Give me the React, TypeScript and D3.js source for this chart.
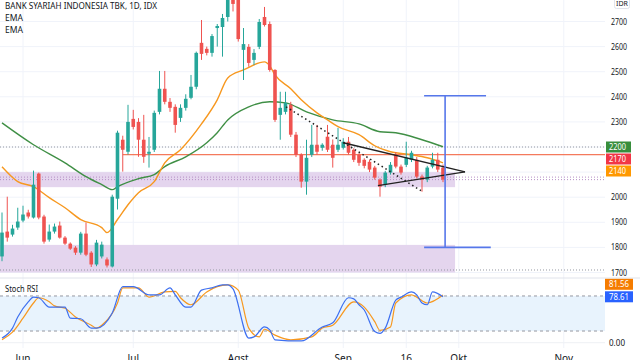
import React from 'react'
import * as d3 from 'd3'

// daily candles, open / high / low / close (IDR)
const ohlc: [number, number, number, number][] = [
  [1764, 1939, 1745, 1859], [1863, 2002, 1823, 1839], [1851, 1890, 1843, 1875], [1879, 1958, 1870, 1903],
  [1907, 1966, 1900, 1931], [1939, 1950, 1915, 1923], [1919, 2106, 1915, 2050], [2094, 2098, 1912, 1919],
  [1923, 1930, 1815, 1823], [1831, 1891, 1823, 1863], [1863, 1895, 1855, 1883], [1887, 1903, 1835, 1839],
  [1839, 1845, 1810, 1815], [1815, 1820, 1790, 1795], [1799, 1805, 1770, 1779], [1779, 1862, 1771, 1855],
  [1855, 1899, 1765, 1771], [1779, 1785, 1722, 1732], [1732, 1830, 1725, 1819], [1764, 1823, 1756, 1811],
  [1752, 1760, 1720, 1728], [1724, 2010, 1720, 2002], [1994, 2265, 1951, 2257], [2229, 2245, 2102, 2189],
  [2181, 2368, 2170, 2300], [2312, 2348, 2270, 2280], [2300, 2315, 2161, 2229], [2229, 2328, 2137, 2161],
  [2173, 2240, 2118, 2181], [2189, 2345, 2180, 2336], [2340, 2503, 2330, 2432], [2432, 2503, 2370, 2380],
  [2380, 2395, 2340, 2356], [2360, 2370, 2257, 2288], [2316, 2370, 2300, 2356], [2356, 2410, 2345, 2392],
  [2396, 2487, 2390, 2440], [2440, 2580, 2430, 2575], [2615, 2706, 2547, 2571], [2591, 2600, 2565, 2575],
  [2575, 2650, 2560, 2642], [2674, 2690, 2600, 2682], [2678, 2730, 2560, 2714], [2718, 2800, 2700, 2786],
  [2800, 2840, 2740, 2770], [2790, 2800, 2620, 2630], [2587, 2674, 2467, 2610], [2599, 2610, 2520, 2535],
  [2547, 2590, 2527, 2575], [2599, 2710, 2590, 2698], [2718, 2758, 2680, 2686], [2690, 2700, 2500, 2507],
  [2507, 2510, 2300, 2308], [2328, 2420, 2229, 2356], [2340, 2420, 2330, 2376], [2368, 2380, 2240, 2249],
  [2249, 2260, 2160, 2169], [2169, 2175, 2038, 2062], [2062, 2229, 2010, 2157], [2169, 2288, 2160, 2209],
  [2209, 2288, 2170, 2181], [2197, 2215, 2185, 2209], [2241, 2288, 2180, 2189], [2209, 2230, 2118, 2157],
  [2189, 2276, 2180, 2209], [2197, 2235, 2190, 2221], [2221, 2240, 2170, 2177], [2189, 2195, 2140, 2149],
  [2169, 2175, 2125, 2137], [2149, 2155, 2115, 2125], [2141, 2150, 2100, 2110], [2118, 2125, 2070, 2078],
  [2070, 2075, 2002, 2042], [2050, 2105, 2040, 2098], [2098, 2140, 2090, 2129], [2169, 2180, 2115, 2122],
  [2122, 2130, 2090, 2098], [2129, 2221, 2120, 2157], [2149, 2185, 2140, 2177], [2149, 2160, 2075, 2082],
  [2082, 2090, 2022, 2070], [2070, 2125, 2060, 2118], [2122, 2177, 2115, 2149], [2149, 2177, 2100, 2110],
  [2118, 2130, 2060, 2070],
]

// [day index, value]
const emaFast: [number, number][] = [
  [0, 2121], [3, 2062], [6, 2042], [9, 1998], [12, 1958], [15, 1911], [19, 1879], [20, 1859], [22, 1911],
  [24, 1970], [26, 2018], [29, 2062], [31, 2137], [34, 2189], [38, 2292], [41, 2388], [43, 2475], [46, 2507],
  [50, 2539], [51, 2523], [52, 2487], [55, 2432], [57, 2388], [60, 2336], [62, 2308], [64, 2281], [68, 2249],
  [71, 2205], [74, 2181], [78, 2169], [81, 2157], [84, 2137],
]
const emaSlow: [number, number][] = [
  [0, 2296], [6, 2209], [12, 2137], [16, 2082], [19, 2050], [21, 2030], [22, 2042], [26, 2074], [29, 2090],
  [31, 2122], [35, 2161], [39, 2217], [41, 2257], [43, 2308], [47, 2360], [51, 2380], [54, 2376], [58, 2340],
  [63, 2308], [68, 2292], [72, 2261], [75, 2257], [80, 2229], [84, 2201],
]
const stochK: [number, number][] = [
  [0, 8], [2, 25], [3, 44], [5, 70], [6, 78], [7, 77], [9, 61], [11, 61], [12, 61], [13, 42], [15, 41], [17, 25],
  [18, 25], [21, 51], [23, 96], [25, 96], [28, 82], [30, 82], [32, 94], [33, 82], [35, 61], [36, 61], [38, 90],
  [40, 94], [42, 99], [43, 99], [44, 92], [47, 8], [48, 10], [50, 27], [51, 22], [52, 5], [57, 3], [61, 27],
  [63, 34], [66, 77], [67, 75], [68, 65], [69, 56], [71, 19], [72, 16], [73, 25], [75, 73], [76, 78], [78, 87],
  [79, 82], [80, 68], [81, 65], [82, 87], [84, 78.61],
]
const stochD: [number, number][] = [
  [0, 5], [2, 18], [4, 42], [6, 68], [7, 77], [9, 70], [10, 63], [12, 59], [14, 44], [17, 30], [18, 25], [19, 30],
  [22, 68], [23, 94], [26, 94], [28, 78], [31, 87], [33, 88], [34, 77], [36, 65], [39, 87], [41, 96], [43, 99],
  [45, 90], [47, 25], [49, 10], [50, 23], [52, 13], [55, 5], [59, 10], [61, 25], [63, 30], [67, 70], [69, 61],
  [71, 36], [72, 21], [74, 27], [75, 68], [78, 82], [79, 78], [81, 68], [84, 81.56],
]

const priceTicks = [1700, 1800, 1900, 2000, 2100, 2200, 2300, 2400, 2500, 2600, 2700]
const hiddenTicks = [2100, 2200] // covered by the last-value boxes
const dateTickIdx = [4, 25, 45, 65, 77, 87, 107]
const dateTickLabels = ['Jun', 'Jul', 'Agst', 'Sep', '16', 'Okt', 'Nov']

// support zones [top, bottom, end index]
const zones: [number, number, number][] = [[2100, 2040, 86.3], [1810, 1700, 86.3]]
const dottedLevels = [2200, 2080, 2070, 1710]
const rayLevel = 2170
const rayStart = 23
// triangle and trend line, [index, price]
const triUpper: [number, number][] = [[65, 2217], [88.2, 2101]]
const triLower: [number, number][] = [[71.6, 2046], [88.2, 2101]]
const trendDots: [number, number][] = [[54.1, 2360], [79.8, 2026]]
// price range tool
const rangeTop = 2404
const rangeBottom = 1800
const rangeX = 84.4
const rangeTopSpan = [80.4, 92.2]
const rangeBottomSpan = [80.4, 93.1]

const lastLabels: [string, number, string][] = [['2200', 2200, '#388e3c'], ['2170', 2170, '#f23645'], ['2140', 2140, '#ff9800']]
const stochLabels: [string, string][] = [['81.56', '#f57c00'], ['78.61', '#2962ff']]

const font = '"Noto Sans", Roboto, sans-serif'
const up = '#26a69a'
const down = '#ef5350'

const App = () => {
  const x = d3.scaleLinear().domain([0, 84]).range([2, 443])
  const y = d3.scaleLinear().domain([1700, 2700]).range([272.5, 21.5])
  const ys = d3.scaleLinear().domain([0, 100]).range([342.7, 284.3])
  const plotRight = 605

  const priceLine = d3.line<[number, number]>().x((d) => x(d[0])).y((d) => y(d[1])).curve(d3.curveMonotoneX)
  const straight = d3.line<[number, number]>().x((d) => x(d[0])).y((d) => y(d[1]))
  const stochLine = d3.line<[number, number]>().x((d) => x(d[0])).y((d) => ys(d[1])).curve(d3.curveMonotoneX)

  // price label boxes are pushed apart so they do not overlap
  const labelY: number[] = []
  lastLabels.forEach((l, i) => {
    const yy = y(l[1])
    labelY.push(i === 0 ? yy : Math.max(yy, labelY[i - 1] + 12))
  })
  const stochY = [ys(78.61) - 12.5, ys(78.61)]

  return (
    <svg width={640} height={360} style={{ position: 'absolute', left: 0, top: 0, background: '#fff', fontFamily: font }}>
      <defs>
        <clipPath id="main">
          <rect x={0} y={0} width={plotRight} height={277} />
        </clipPath>
        <clipPath id="stoch">
          <rect x={0} y={279} width={plotRight} height={81} />
        </clipPath>
      </defs>

      {/* grid */}
      {dateTickIdx.map((d, i) => (
        <line key={'vg' + i} x1={x(d)} x2={x(d)} y1={0} y2={348} stroke="#f0f3fa" />
      ))}
      {priceTicks.map((p) => (
        <line key={'hg' + p} x1={0} x2={plotRight} y1={y(p)} y2={y(p)} stroke="#f0f3fa" />
      ))}

      <g clipPath="url(#main)">
        {zones.map((z, i) => (
          <rect key={'z' + i} x={0} y={y(z[0])} width={x(z[2])} height={y(z[1]) - y(z[0])} fill="#e4d5ee" />
        ))}
        {dottedLevels.map((p, i) => (
          <line key={'dl' + i} x1={0} x2={plotRight} y1={y(p)} y2={y(p)} stroke={i === 1 || i === 2 ? '#b48fc4' : '#9598a1'} strokeDasharray="1,2" />
        ))}
        <line x1={x(rayStart)} x2={plotRight} y1={y(rayLevel)} y2={y(rayLevel)} stroke="#f47a5c" strokeWidth={1.2} />

        <path d={priceLine(emaSlow) || ''} fill="none" stroke="#3f8f45" strokeWidth={1.4} />
        <path d={priceLine(emaFast) || ''} fill="none" stroke="#f7981f" strokeWidth={1.4} />

        {ohlc.map((c, i) => {
          const [o, h, l, cl] = c
          const col = cl >= o ? up : down
          const top = y(Math.max(o, cl))
          const bh = Math.max(1, Math.abs(y(o) - y(cl)))
          return (
            <g key={'c' + i}>
              <line x1={x(i)} x2={x(i)} y1={y(h)} y2={y(l)} stroke={col} strokeWidth={1} />
              <rect x={x(i) - 1.8} y={top} width={3.6} height={bh} fill={col} />
            </g>
          )
        })}

        <path d={straight(trendDots) || ''} stroke="#222" strokeWidth={1.5} strokeDasharray="1.5,3" fill="none" />
        <path d={straight(triUpper) || ''} stroke="#222" strokeWidth={1.4} fill="none" />
        <path d={straight(triLower) || ''} stroke="#222" strokeWidth={1.4} fill="none" />

        <g stroke="#5677ea" strokeWidth={1.6}>
          <line x1={x(rangeX)} x2={x(rangeX)} y1={y(rangeTop)} y2={y(rangeBottom)} />
          <line x1={x(rangeTopSpan[0])} x2={x(rangeTopSpan[1])} y1={y(rangeTop)} y2={y(rangeTop)} />
          <line x1={x(rangeBottomSpan[0])} x2={x(rangeBottomSpan[1])} y1={y(rangeBottom)} y2={y(rangeBottom)} />
        </g>
      </g>

      <line x1={0} x2={640} y1={278} y2={278} stroke="#e0e3eb" />

      {/* stoch rsi pane */}
      <g clipPath="url(#stoch)">
        <rect x={0} y={ys(80)} width={plotRight} height={ys(20) - ys(80)} fill="#e8f3fd" />
        <line x1={0} x2={plotRight} y1={ys(0)} y2={ys(0)} stroke="#eef0f4" />
        <line x1={0} x2={plotRight} y1={ys(80)} y2={ys(80)} stroke="#9598a1" strokeDasharray="3,3" />
        <line x1={0} x2={plotRight} y1={ys(20)} y2={ys(20)} stroke="#9598a1" strokeDasharray="3,3" />
        <path d={stochLine(stochD) || ''} fill="none" stroke="#f7981f" strokeWidth={1.2} />
        <path d={stochLine(stochK) || ''} fill="none" stroke="#3d6ff0" strokeWidth={1.2} />
      </g>

      {/* legend */}
      <text x={5} y={9} fontSize={9.5} fill="#131722" textLength={152} lengthAdjust="spacingAndGlyphs">
        BANK SYARIAH INDONESIA TBK, 1D, IDX
      </text>
      <text x={5} y={21} fontSize={9.5} fill="#131722" textLength={18} lengthAdjust="spacingAndGlyphs">EMA</text>
      <text x={5} y={33} fontSize={9.5} fill="#131722" textLength={18} lengthAdjust="spacingAndGlyphs">EMA</text>
      <text x={5} y={292} fontSize={9.5} fill="#131722" textLength={33} lengthAdjust="spacingAndGlyphs">Stoch RSI</text>

      {/* price axis */}
      <rect x={614.5} y={-4.5} width={15} height={13} rx={2} fill="#fff" stroke="#e0e3eb" />
      <text x={622} y={6} fontSize={7} fill="#131722" textAnchor="middle">IDR</text>
      {priceTicks.filter((p) => !hiddenTicks.includes(p)).map((p) => (
        <text key={'pt' + p} x={611} y={y(p) + 3} fontSize={9} fill="#131722" textLength={16} lengthAdjust="spacingAndGlyphs">
          {p}
        </text>
      ))}
      {lastLabels.map((l, i) => (
        <g key={'ll' + i}>
          <rect x={606} y={labelY[i] - 5.5} width={25} height={11} fill={l[2]} />
          <text x={609} y={labelY[i] + 3} fontSize={9} fill="#fff" textLength={17} lengthAdjust="spacingAndGlyphs">
            {l[0]}
          </text>
        </g>
      ))}
      <text x={609} y={ys(0) + 3} fontSize={9} fill="#131722" textLength={16} lengthAdjust="spacingAndGlyphs">0.00</text>
      {stochLabels.map((l, i) => (
        <g key={'sl' + i}>
          <rect x={605} y={stochY[i] - 5.5} width={28} height={11} fill={l[1]} />
          <text x={609} y={stochY[i] + 3} fontSize={9} fill="#fff" textLength={20} lengthAdjust="spacingAndGlyphs">
            {l[0]}
          </text>
        </g>
      ))}

      {/* time axis */}
      {dateTickIdx.map((d, i) => (
        <text key={'dt' + i} x={x(d)} y={362} fontSize={10} fill="#131722" textAnchor="middle">
          {dateTickLabels[i]}
        </text>
      ))}
    </svg>
  )
}

export default App
